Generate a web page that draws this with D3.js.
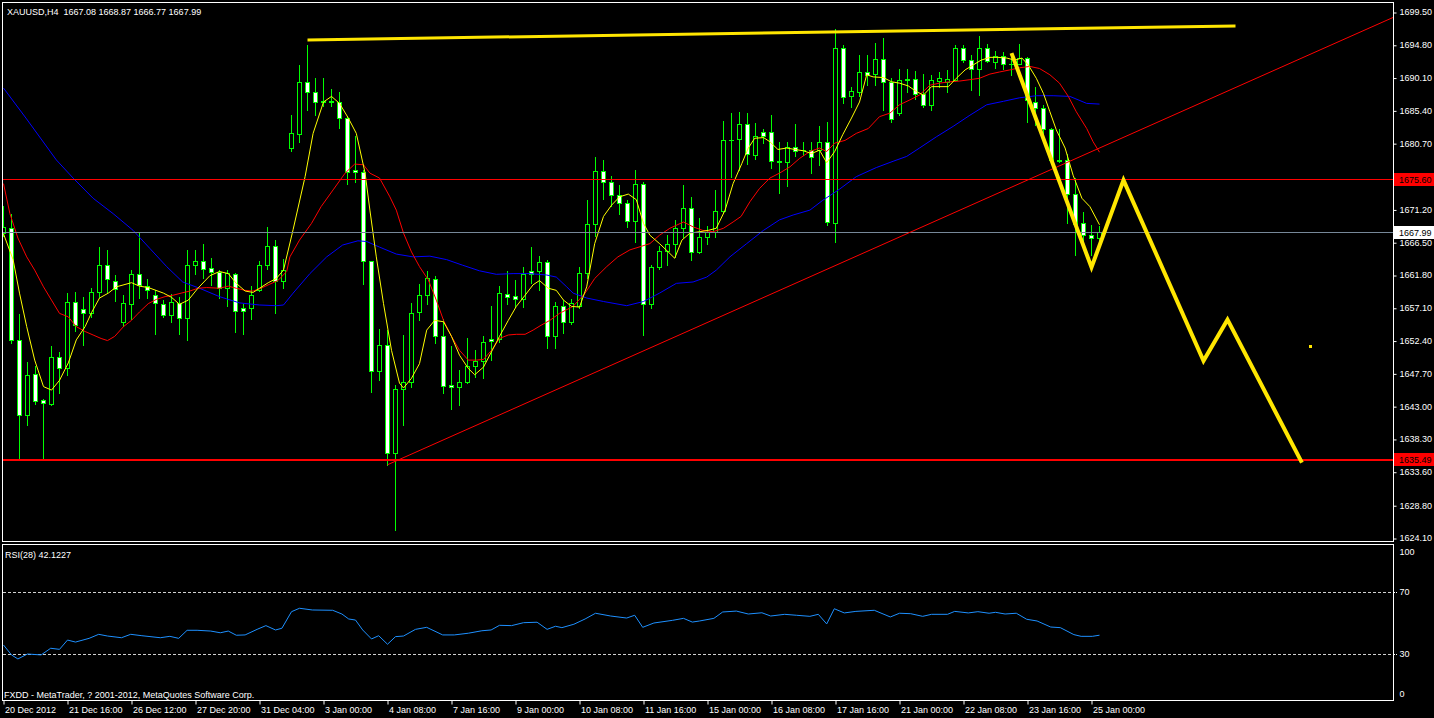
<!DOCTYPE html>
<html><head><meta charset="utf-8">
<script src="https://cdn.jsdelivr.net/npm/d3@7"></script>
<style>
html,body{margin:0;padding:0;background:#000;overflow:hidden}
svg{display:block}
text{font-family:"Liberation Sans",Arial,sans-serif;font-size:9px;fill:#fff;white-space:pre}
</style></head><body>
<svg id="c" width="1434" height="718"></svg>
<script>
const symbol = "XAUUSD,H4";
const opens = [1667.8,1668.6,1652.5,1641.8,1647.6,1643.9,1643.3,1650.0,1648.4,1658.0,1656.9,1656.4,1659.3,1663.2,1661.0,1655.0,1657.7,1662.0,1660.2,1659.0,1657.7,1656.1,1657.8,1655.7,1663.2,1663.8,1662.8,1662.3,1660.0,1662.0,1657.1,1657.0,1659.7,1663.3,1666.0,1661.0,1680.0,1682.0,1689.4,1688.0,1686.6,1686.6,1686.6,1684.3,1676.8,1676.5,1663.8,1648.0,1651.8,1636.3,1645.4,1646.5,1656.5,1659.0,1661.2,1653.1,1646.0,1645.7,1646.5,1648.7,1649.5,1652.6,1652.6,1659.1,1658.8,1658.4,1662.4,1662.4,1663.6,1653.1,1657.3,1655.1,1657.4,1662.1,1669.1,1676.7,1675.1,1673.2,1672.1,1669.6,1674.8,1657.6,1662.9,1665.3,1666.3,1668.5,1671.4,1665.1,1667.2,1667.9,1671.0,1681.2,1681.3,1683.5,1679.0,1682.3,1682.3,1678.1,1678.0,1680.2,1679.7,1679.7,1679.7,1680.8,1669.2,1694.3,1687.4,1688.1,1690.9,1690.6,1692.8,1689.4,1685.0,1689.9,1689.9,1687.8,1686.1,1689.6,1689.4,1689.8,1694.3,1692.6,1691.4,1694.4,1692.3,1693.2,1692.0,1692.1,1692.9,1686.6,1685.7,1682.7,1678.3,1678.3,1673.4,1669.2,1667.6,1667.08];
const highs = [1671.7,1670.6,1656.2,1649.3,1648.8,1644.0,1651.6,1650.8,1659.2,1659.4,1658.6,1659.9,1665.8,1665.4,1661.8,1658.9,1662.5,1667.9,1661.2,1659.6,1658.2,1659.1,1658.7,1665.4,1665.4,1666.2,1664.3,1662.5,1662.5,1662.1,1657.6,1660.2,1663.8,1668.7,1666.8,1664.1,1684.7,1691.9,1694.8,1690.0,1690.0,1688.4,1688.1,1684.6,1681.7,1676.9,1663.8,1654.0,1653.9,1646.0,1653.2,1657.8,1660.5,1662.4,1661.6,1655.5,1651.6,1648.2,1652.7,1651.0,1653.1,1657.3,1660.2,1662.4,1661.1,1662.9,1665.8,1664.5,1664.0,1658.0,1658.2,1658.3,1662.9,1672.5,1678.7,1678.3,1676.0,1674.7,1672.6,1676.8,1675.2,1663.2,1666.0,1667.5,1669.7,1674.7,1673.0,1669.9,1668.8,1674.0,1683.9,1685.0,1685.1,1685.0,1683.6,1682.8,1684.7,1680.8,1680.9,1683.5,1680.9,1680.8,1683.1,1683.8,1697.1,1694.8,1688.7,1693.4,1693.4,1695.0,1695.8,1690.0,1691.3,1691.3,1691.0,1690.6,1690.5,1690.9,1691.2,1694.8,1694.7,1693.4,1696.0,1694.9,1693.9,1693.7,1693.3,1694.9,1693.1,1688.8,1686.2,1682.9,1682.8,1679.2,1675.7,1670.9,1669.0,1668.87];
const lows = [1667.4,1652.1,1635.5,1640.3,1643.3,1635.4,1643.2,1644.9,1647.5,1653.8,1651.7,1655.8,1658.7,1659.3,1658.1,1654.5,1655.5,1658.5,1658.5,1653.3,1655.8,1655.1,1653.4,1652.5,1662.0,1661.3,1660.4,1658.5,1657.3,1653.7,1653.4,1655.5,1659.5,1662.6,1656.4,1659.9,1679.6,1680.9,1685.5,1684.7,1686.0,1686.0,1682.9,1674.8,1675.2,1660.5,1645.1,1646.8,1634.6,1625.2,1640.3,1645.8,1655.3,1657.7,1652.0,1644.9,1642.6,1643.2,1646.3,1647.2,1647.1,1649.6,1652.2,1657.6,1657.2,1657.2,1660.7,1659.7,1651.3,1651.4,1653.5,1654.8,1657.0,1661.3,1667.4,1672.7,1671.7,1670.6,1668.7,1666.6,1653.2,1657.0,1662.6,1663.2,1664.4,1667.2,1663.9,1664.9,1666.2,1667.2,1670.9,1675.9,1676.8,1677.7,1678.4,1680.7,1677.1,1673.5,1674.6,1678.9,1679.0,1676.4,1677.6,1668.9,1666.6,1686.4,1685.9,1687.4,1689.0,1689.1,1685.5,1683.8,1684.7,1688.1,1687.1,1685.9,1685.5,1688.8,1688.0,1689.6,1692.4,1688.3,1687.6,1692.3,1691.5,1691.4,1690.5,1692.0,1683.8,1683.3,1681.9,1677.8,1678.0,1669.2,1664.7,1665.9,1664.7,1666.77];
const closes = [1668.7,1652.5,1641.8,1647.4,1643.8,1643.4,1650.0,1648.4,1658.0,1654.7,1656.4,1659.3,1663.2,1661.2,1659.8,1657.8,1662.0,1660.3,1659.6,1657.8,1656.1,1657.9,1655.7,1663.2,1663.8,1662.7,1662.3,1660.0,1662.1,1656.6,1656.7,1659.0,1663.3,1666.0,1661.0,1662.5,1682.1,1689.4,1688.0,1686.6,1686.7,1686.7,1684.3,1676.6,1676.5,1663.8,1648.1,1651.8,1636.3,1645.4,1646.5,1656.4,1659.0,1661.3,1653.1,1645.9,1645.7,1646.5,1648.7,1649.5,1652.2,1652.3,1659.2,1658.7,1658.4,1661.9,1661.9,1663.6,1653.1,1657.3,1655.1,1657.8,1662.1,1669.1,1676.7,1675.1,1673.2,1672.1,1669.6,1674.8,1657.7,1662.9,1665.3,1666.3,1668.5,1671.4,1665.1,1667.3,1667.9,1671.0,1681.2,1681.1,1683.5,1679.1,1681.7,1681.7,1678.1,1678.0,1680.2,1679.6,1679.7,1678.7,1680.8,1669.4,1694.3,1687.3,1688.2,1690.9,1690.5,1692.8,1689.4,1684.2,1689.8,1689.8,1687.7,1686.2,1689.8,1690.1,1689.9,1694.3,1692.6,1691.3,1694.3,1692.5,1693.2,1692.0,1692.1,1692.9,1686.9,1685.7,1682.7,1678.3,1678.2,1673.4,1669.1,1667.6,1667.1,1667.99];

const timeTickBars = [0,8,16,24,32,40,48,56,64,72,80,88,96,104,112,120,128,136];
const timeTickLabels = ["20 Dec 2012","21 Dec 16:00","26 Dec 12:00","27 Dec 20:00","31 Dec 04:00","3 Jan 00:00","4 Jan 08:00","7 Jan 16:00","9 Jan 00:00","10 Jan 08:00","11 Jan 16:00","15 Jan 00:00","16 Jan 08:00","17 Jan 16:00","21 Jan 00:00","22 Jan 08:00","23 Jan 16:00","25 Jan 00:00"];
const priceTicks = [1699.50,1694.80,1690.10,1685.40,1680.70,1671.20,1666.50,1661.80,1657.10,1652.40,1647.70,1643.00,1638.30,1633.60,1628.80,1624.10];
const rsiTicks = [100,70,30,0];
const rsiLevels = [70,30];

// moving averages: [bar, price]
const maFast = [[0,1667.7],[1.2,1664.0],[2,1659.2],[2.9,1654.4],[3.9,1649.6],[5,1645.8],[6,1645.3],[7,1646.7],[8.1,1649.2],[9.1,1652.5],[10.2,1654.4],[11,1656.4],[12,1658.5],[13.1,1659.2],[14.1,1660.1],[16,1660.7],[17,1660.2],[18.1,1660.0],[20,1659.2],[21,1658.6],[22,1657.6],[23.1,1658.2],[24.3,1659.9],[25.8,1661.7],[27,1662.3],[28.1,1662.0],[29.1,1660.6],[30.2,1659.5],[31.2,1659.3],[32,1659.9],[33.1,1660.7],[34.1,1661.3],[35,1662.5],[36.2,1668.3],[37.7,1675.9],[38.7,1682.1],[40,1686.6],[41,1687.4],[42,1686.4],[43.1,1684.3],[44.1,1682.1],[45.2,1676.4],[45.8,1671.1],[46.6,1664.4],[47.5,1657.7],[48.5,1651.0],[49.5,1646.3],[50,1645.6],[51,1647.0],[52,1649.1],[52.9,1653.9],[53.9,1655.3],[55,1655.1],[56,1653.0],[57,1650.3],[58.1,1648.4],[58.9,1647.5],[60,1648.6],[61,1650.8],[62,1653.0],[63.1,1655.3],[64.1,1657.3],[65.2,1658.9],[66.2,1660.4],[67,1661.0],[68.1,1659.9],[69.1,1659.6],[70,1658.2],[71,1657.3],[72,1657.2],[72.9,1660.1],[73.9,1666.3],[75,1670.2],[76,1671.8],[77,1673.0],[78.1,1673.4],[79.1,1672.6],[80,1669.2],[80.8,1667.5],[82,1666.3],[83.1,1665.1],[83.9,1664.2],[84.8,1666.8],[85.8,1667.8],[87,1668.0],[88.1,1668.2],[89.1,1668.5],[90.2,1671.1],[91.2,1674.9],[92.3,1677.8],[93.1,1680.0],[93.9,1681.4],[95,1681.5],[95.8,1680.9],[96.8,1679.8],[97.9,1680.0],[98.9,1679.8],[100,1679.6],[101,1679.2],[102,1679.7],[102.9,1677.9],[103.9,1679.5],[104.9,1681.9],[106,1684.3],[107,1686.6],[107.9,1690.5],[108.7,1690.2],[110,1690.1],[111,1689.5],[112,1689.3],[113.1,1688.9],[114.1,1688.1],[115,1687.6],[116,1688.8],[118.1,1688.8],[119.1,1690.0],[120.2,1691.2],[121.2,1691.9],[122.2,1692.6],[123.3,1693.0],[124.3,1693.0],[125.4,1692.9],[126.4,1692.6],[127.3,1692.9],[128.1,1691.9],[129.1,1690.0],[130,1687.8],[130.8,1685.2],[131.6,1682.6],[132.7,1680.0],[133.7,1676.1],[134.8,1672.8],[135.8,1671.6],[137,1669.0]];
const maMid = [[0,1674.9],[0.8,1670.6],[1.8,1667.1],[2.9,1664.4],[3.9,1662.5],[5,1660.1],[6,1658.2],[7,1656.3],[8.1,1655.8],[9.1,1654.4],[10.2,1653.7],[11.2,1653.2],[12.2,1652.7],[13,1652.4],[13.9,1653.0],[15,1654.4],[16,1655.3],[17,1656.5],[18.1,1657.7],[19.1,1658.3],[20.2,1658.7],[21.2,1658.9],[22.2,1659.2],[23.3,1659.5],[24.3,1659.9],[25.4,1660.0],[27,1659.9],[28.1,1660.2],[29.1,1659.9],[30.2,1659.6],[31.2,1659.5],[32.2,1659.9],[33.3,1660.5],[34.3,1661.0],[35.4,1662.3],[35.8,1664.4],[37,1666.8],[38.5,1669.2],[39.7,1671.6],[41.2,1674.0],[42.7,1676.4],[43.9,1677.7],[45,1677.6],[45.8,1676.4],[47,1675.7],[48.3,1673.0],[49.1,1671.1],[50,1667.8],[51,1665.1],[52,1663.0],[53.1,1661.1],[54.1,1658.2],[55,1655.3],[56,1653.0],[57,1651.0],[58.1,1649.6],[59.1,1649.6],[60,1649.7],[61,1651.0],[62,1652.7],[63.1,1653.2],[64.1,1653.3],[65.2,1653.3],[66.2,1653.9],[67.2,1654.6],[68.3,1655.3],[69.5,1656.3],[71.2,1657.3],[72.7,1659.2],[73.9,1661.3],[75.4,1663.0],[76.8,1664.4],[78.3,1665.4],[79.7,1665.9],[80.8,1666.3],[82,1667.5],[83.3,1668.5],[85,1669.4],[86.2,1668.7],[87.4,1668.2],[88.7,1668.0],[90,1668.5],[91.2,1669.4],[92.2,1670.2],[93.3,1672.3],[94.5,1674.2],[95.8,1675.7],[97,1676.4],[98.3,1677.3],[99.5,1678.5],[100.8,1679.5],[102,1680.0],[102.9,1679.5],[103.9,1680.7],[105.2,1681.1],[106.6,1682.1],[108.1,1682.8],[109.5,1684.5],[110.8,1685.0],[112,1686.2],[113.3,1686.9],[114.5,1687.6],[115.8,1689.0],[117,1689.3],[118.3,1689.5],[119.5,1689.6],[120.8,1689.8],[122,1690.0],[123.3,1690.6],[124.5,1690.9],[125.8,1691.2],[127,1691.5],[128.3,1691.7],[129.5,1691.4],[130.8,1690.5],[132,1689.3],[133.1,1687.4],[134.1,1685.2],[135.4,1682.8],[136.2,1680.9],[137,1679.4]];
const maSlow = [[0,1688.6],[2.8,1684.3],[6.6,1678.3],[8.7,1675.7],[11.2,1672.8],[13.7,1670.6],[16.2,1668.2],[18.3,1665.6],[20.4,1663.0],[22.4,1660.8],[24.5,1659.9],[27,1658.7],[29.5,1657.8],[32,1657.5],[34.1,1657.4],[35,1657.5],[36.2,1659.2],[38.3,1662.0],[40.4,1664.4],[42.4,1666.1],[44.3,1666.7],[45.4,1666.6],[47,1665.8],[49.1,1664.8],[51.2,1664.4],[53.3,1664.5],[55.4,1664.0],[57.4,1663.2],[59.5,1662.4],[61.6,1661.9],[63.7,1662.0],[65.8,1662.0],[67.9,1661.8],[69.1,1661.5],[70.4,1660.1],[71.2,1659.2],[72.9,1658.5],[75,1658.0],[77.9,1657.4],[80,1658.0],[82,1659.2],[84.1,1660.6],[86.2,1660.8],[87.9,1661.5],[89.1,1662.5],[90.8,1664.4],[92.9,1666.3],[95,1668.2],[97,1669.7],[98.7,1670.4],[100.8,1671.1],[102.4,1672.5],[104.5,1674.1],[106.6,1675.9],[109.1,1677.2],[111.2,1678.1],[112.9,1678.8],[114.5,1680.0],[116.6,1681.6],[118.7,1683.1],[120.8,1684.7],[122.9,1686.2],[125,1686.7],[127,1687.2],[129.1,1687.5],[131.2,1687.5],[133.3,1687.4],[135.4,1686.4],[137,1686.3]];
const rsiPts = [[0,35.8],[1,29.4],[1.8,26.8],[3,30.0],[4.7,29.4],[5.9,33.7],[7,33.0],[8,39.0],[9,37.7],[10.7,40.1],[11.9,42.7],[13,41.6],[14.75,40.5],[15.9,42.7],[17.3,41.8],[19.6,40.5],[20.8,41.4],[21.9,40.1],[22.95,45.3],[24.2,45.3],[25.9,44.8],[27.1,43.7],[28.1,44.8],[29.1,42.1],[30.2,42.3],[31.7,45.9],[32.8,48.3],[34,45.5],[34.8,46.6],[36,57.3],[37,59.5],[38.6,58.4],[41.15,58.2],[42.3,55.8],[43.15,52.6],[44,51.9],[44.9,45.5],[46,39.7],[46.9,41.8],[48,36.3],[49,41.2],[50,41.6],[51.5,45.9],[52.9,47.2],[54.9,42.3],[56.35,42.3],[58.1,43.4],[59.8,45.0],[60.95,45.5],[62,48.5],[63.5,48.3],[65,50.2],[66.7,50.5],[67.95,45.9],[69,47.9],[69.8,47.0],[71.3,49.2],[72.7,52.6],[74,56.3],[75.9,54.5],[77.9,53.2],[78.9,55.0],[79.9,47.2],[81.3,50.0],[83.6,51.7],[85,53.0],[86.1,50.6],[87,51.3],[88.8,53.0],[89.9,57.1],[91.6,57.7],[93.1,55.8],[94.8,56.6],[95.9,54.5],[97.65,55.6],[99.1,55.0],[100.8,54.3],[101.85,55.6],[102.9,49.4],[103.85,59.2],[105.1,56.5],[106.55,57.5],[108.85,58.2],[110.85,53.9],[112,56.3],[113.4,56.0],[114.9,54.3],[116,55.6],[118,55.6],[118.9,57.5],[120.6,56.5],[121.8,57.3],[123.2,56.3],[124,56.9],[125.2,55.8],[126.6,56.3],[127.9,52.4],[129.2,51.3],[130.9,47.4],[132.1,47.0],[133.8,42.5],[134.7,41.4],[136.1,41.4],[137,42.1227]];

// chart objects: [bar, price]
const levelPrices = [1675.60, 1635.49];
const bidPrice = 1667.99;
const topLine = [[38,1695.5],[154,1697.5]];
const redTrend = [[48,1634.6],[137,1680.0]];
const zigzag = [[126,1693.6],[136,1662.9],[140,1675.4],[150,1649.5],[153,1655.4],[162.3,1634.9]];
const marker = [163.3,1651.6];

const svg = d3.select('#c');
const N = opens.length;
const x = d3.scaleLinear().domain([0,172]).range([3.5, 3.5+8*172]);
const y = d3.scaleLinear().domain([1624.1,1699.5]).range([538,12]);
const ry = d3.scaleLinear().domain([0,100]).range([700.5,545.5]);
const GREEN = '#00ff00';
const f2 = d3.format('.2f');

const defs = svg.append('defs');
defs.append('clipPath').attr('id','clipMain').append('rect').attr('x',3).attr('y',3).attr('width',1390).attr('height',538);
defs.append('clipPath').attr('id','clipRsi').append('rect').attr('x',3).attr('y',545).attr('width',1390).attr('height',155);

svg.append('rect').attr('width',1434).attr('height',718).attr('fill','#000');

const gM = svg.append('g').attr('clip-path','url(#clipMain)');

// candles
const cg = gM.append('g');
cg.selectAll('line.wick').data(d3.range(N)).join('line').attr('class','wick')
  .attr('x1',i=>x(i)).attr('x2',i=>x(i))
  .attr('y1',i=>Math.round(y(highs[i]))).attr('y2',i=>Math.round(y(lows[i]))+1)
  .attr('stroke',GREEN);
d3.range(N).forEach(i=>{
  const cx = x(i);
  const top = Math.round(y(Math.max(opens[i],closes[i])));
  const bot = Math.round(y(Math.min(opens[i],closes[i])));
  if (bot - top < 1) {
    cg.append('line').attr('x1',cx-2.5).attr('x2',cx+2.5).attr('y1',top+0.5).attr('y2',top+0.5).attr('stroke',GREEN);
  } else {
    cg.append('rect').attr('x',cx-2).attr('y',top+0.5).attr('width',4).attr('height',bot-top)
      .attr('fill', closes[i]>=opens[i] ? '#000' : '#fff').attr('stroke',GREEN);
  }
});

const line = d3.line().x(d=>x(d[0])).y(d=>y(d[1]));
gM.append('path').attr('d',line(maSlow)).attr('fill','none').attr('stroke','#0000ff');
gM.append('path').attr('d',line(maMid)).attr('fill','none').attr('stroke','#ff0000');
gM.append('path').attr('d',line(maFast)).attr('fill','none').attr('stroke','#ffff00');

// horizontal levels
gM.append('line').attr('x1',3).attr('x2',1393).attr('y1',Math.round(y(levelPrices[0]))+0.5).attr('y2',Math.round(y(levelPrices[0]))+0.5).attr('stroke','#ff0000');
gM.append('line').attr('x1',3).attr('x2',1393).attr('y1',Math.round(y(levelPrices[1]))+1).attr('y2',Math.round(y(levelPrices[1]))+1).attr('stroke','#ff0000').attr('stroke-width',2);
gM.append('line').attr('x1',3).attr('x2',1393).attr('y1',Math.round(y(bidPrice))+0.5).attr('y2',Math.round(y(bidPrice))+0.5).attr('stroke','#778899');

// red trend ray
const slope = (redTrend[1][1]-redTrend[0][1])/(redTrend[1][0]-redTrend[0][0]);
const rayEnd = [176, redTrend[0][1] + slope*(176-redTrend[0][0])];
gM.append('path').attr('d',line([redTrend[0],rayEnd])).attr('stroke','#ff0000').attr('fill','none');

// yellow objects
gM.append('path').attr('d',line(topLine)).attr('stroke','#ffe600').attr('stroke-width',3).attr('fill','none');
gM.append('path').attr('d',line(zigzag)).attr('stroke','#ffe600').attr('stroke-width',4).attr('fill','none').attr('stroke-linejoin','miter');
gM.append('rect').attr('x',Math.round(x(marker[0]))-1).attr('y',Math.round(y(marker[1]))-1).attr('width',3).attr('height',3).attr('fill','#ffe600');

// RSI
const gR = svg.append('g').attr('clip-path','url(#clipRsi)');
rsiLevels.forEach(v=>{
  gR.append('line').attr('x1',3).attr('x2',1393).attr('y1',Math.round(ry(v))+0.5).attr('y2',Math.round(ry(v))+0.5)
    .attr('stroke','#d0d0d0').attr('stroke-dasharray','3,2');
});
gR.append('path').attr('d',d3.line().x(d=>x(d[0])).y(d=>ry(d[1]))(rsiPts)).attr('fill','none').attr('stroke','#1e90ff');

// frames
svg.append('rect').attr('x',2.5).attr('y',2.5).attr('width',1391).attr('height',539).attr('fill','none').attr('stroke','#fff');
svg.append('rect').attr('x',2.5).attr('y',544.5).attr('width',1391).attr('height',156).attr('fill','none').attr('stroke','#fff');

// price axis
const pa = svg.append('g').attr('transform','translate(1393.5,0)')
  .call(d3.axisRight(y).tickValues(priceTicks).tickFormat(d=>f2(d)).tickSize(3));
pa.select('.domain').remove();
pa.selectAll('line').attr('stroke','#fff').attr('transform','translate(0,0.5)');
pa.selectAll('text').attr('fill','#fff').attr('x',6).attr('font-size',9).attr('font-family','"Liberation Sans",Arial,sans-serif');

// level boxes
function box(p, bg){
  const yy = Math.round(y(p));
  svg.append('rect').attr('x',1394).attr('y',yy-6).attr('width',40).attr('height',13).attr('fill',bg);
  svg.append('text').attr('x',1399).attr('y',yy+3.5).style('fill','#000').text(f2(p));
}
levelPrices.forEach(p=>box(p,'#ff0000'));
box(bidPrice,'#ffffff');

// RSI axis
const ra = svg.append('g').attr('transform','translate(1393.5,0)')
  .call(d3.axisRight(ry).tickValues(rsiTicks).tickFormat(d3.format('d')).tickSize(0));
ra.select('.domain').remove();
ra.selectAll('.tick').attr('transform',d=>`translate(0,${Math.min(694,Math.max(552,ry(d)))})`);
ra.selectAll('text').attr('fill','#fff').attr('x',6).attr('font-size',9).attr('font-family','"Liberation Sans",Arial,sans-serif');
rsiLevels.forEach(v=>{
  svg.append('line').attr('x1',1393).attr('x2',1397).attr('y1',Math.round(ry(v))+0.5).attr('y2',Math.round(ry(v))+0.5).attr('stroke','#fff').attr('stroke-dasharray','2,1');
});

// time axis
const ta = svg.append('g').attr('transform','translate(0,700.5)')
  .call(d3.axisBottom(x).tickValues(timeTickBars).tickFormat((d,i)=>timeTickLabels[i]).tickSize(4));
ta.select('.domain').remove();
ta.selectAll('line').attr('stroke','#fff');
ta.selectAll('text').attr('fill','#fff').attr('text-anchor','start').attr('x',1).attr('y',6).attr('dy','0.71em')
  .attr('font-size',9).attr('font-family','"Liberation Sans",Arial,sans-serif');

// texts
svg.append('text').attr('x',7).attr('y',15).text(`${symbol}  ${f2(opens[N-1])} ${f2(highs[N-1])} ${f2(lows[N-1])} ${f2(closes[N-1])}`);
svg.append('text').attr('x',5).attr('y',558).text(`RSI(28) ${d3.format('.4f')(rsiPts[rsiPts.length-1][1])}`);
svg.append('text').attr('x',4).attr('y',698).text('FXDD - MetaTrader, ? 2001-2012, MetaQuotes Software Corp.');
</script>
</body></html>
